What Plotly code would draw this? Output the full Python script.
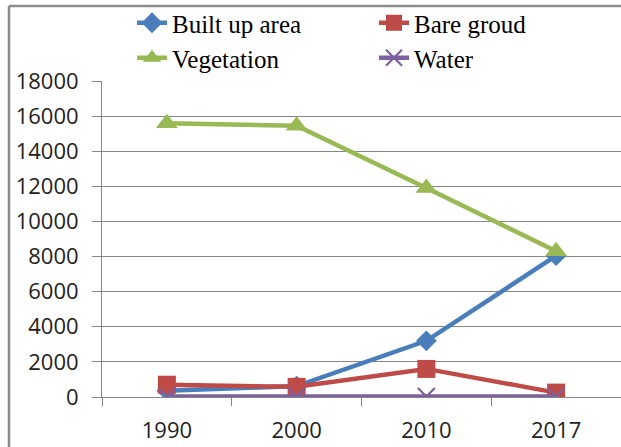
import plotly.graph_objects as go

years = ["1990", "2000", "2010", "2017"]
built_up = [350, 620, 3200, 8050]
bare_ground = [700, 580, 1600, 250]
vegetation = [15600, 15450, 11900, 8300]
water = [30, 30, 30, 30]
y_ticks = [0, 2000, 4000, 6000, 8000, 10000, 12000, 14000, 16000, 18000]

W, H = 621, 447
L, R, T, B = 102, 0, 81, 50
PW, PH = W - L - R, H - T - B

def px_x(p):
    return (p - L) / PW

def px_y(p):
    return (H - B - p) / PH

fig = go.Figure()
fig.add_trace(go.Scatter(x=years, y=built_up, name="Built up area", mode="lines+markers",
                         line=dict(color="#4A7EBB", width=4.5),
                         marker=dict(symbol="diamond", size=16, color="#4A7EBB"),
                         legend="legend"))
fig.add_trace(go.Scatter(x=years, y=bare_ground, name="Bare groud", mode="lines+markers",
                         line=dict(color="#BE4B48", width=4.5),
                         marker=dict(symbol="square", size=18, color="#BE4B48"),
                         legend="legend2"))
fig.add_trace(go.Scatter(x=years, y=vegetation, name="Vegetation", mode="lines+markers",
                         line=dict(color="#98B954", width=4.5),
                         marker=dict(symbol="triangle-up", size=19, color="#98B954"),
                         legend="legend3"))
fig.add_trace(go.Scatter(x=years, y=water, name="Water", mode="lines+markers",
                         line=dict(color="#7D60A0", width=4.5),
                         marker=dict(symbol="x-thin", size=17, color="#7D60A0",
                                     line=dict(color="#7D60A0", width=2.2)),
                         legend="legend4"))

legend_common = dict(orientation="h", xanchor="left", yanchor="middle",
                     font=dict(family="Liberation Serif", size=25, color="#000000"),
                     bgcolor="rgba(0,0,0,0)")

border = dict(color="#8C8C8C", width=2.5)

fig.update_layout(
    width=W, height=H,
    margin=dict(l=L, r=R, t=T, b=B, pad=0, autoexpand=False),
    paper_bgcolor="white", plot_bgcolor="white",
    showlegend=True,
    legend=dict(x=px_x(132), y=px_y(23), **legend_common),
    legend2=dict(x=px_x(374), y=px_y(23), **legend_common),
    legend3=dict(x=px_x(132), y=px_y(58), **legend_common),
    legend4=dict(x=px_x(374), y=px_y(58), **legend_common),
    xaxis=dict(type="category", range=[-0.5, 3.5], showgrid=False,
               ticks="outside", ticklen=8, tickcolor="#868686", tickson="boundaries",
               showline=True, linecolor="#868686", linewidth=1,
               tickfont=dict(family="Open Sans", size=22, color="#222222"),
               ticklabelstandoff=14, zeroline=False),
    yaxis=dict(range=[0, 18000], tickvals=y_ticks, tickformat="d",
               showgrid=True, gridcolor="#868686",
               gridwidth=1, ticks="outside", ticklen=9, tickcolor="#868686",
               showline=True, linecolor="#868686", linewidth=1,
               tickfont=dict(family="Open Sans", size=22, color="#222222"),
               ticklabelstandoff=9, zeroline=False),
    shapes=[
        dict(type="line", xref="paper", yref="paper",
             x0=px_x(9), x1=px_x(9), y0=px_y(447), y1=px_y(6), line=border, layer="below"),
        dict(type="line", xref="paper", yref="paper",
             x0=px_x(9), x1=px_x(621), y0=px_y(6), y1=px_y(6), line=border, layer="below"),
    ],
)

css_js = (
    "var s=document.createElement('style');"
    "s.textContent='html,body{margin:0!important;padding:0!important;overflow:hidden!important;}"
    "::-webkit-scrollbar{width:0!important;height:0!important;display:none!important;}';"
    "document.head.appendChild(s);"
    "document.documentElement.style.overflow='hidden';"
    "document.body.style.margin='0';"
    "document.body.style.overflow='hidden';"
)

fig.write_html("out.html", config={"displayModeBar": False}, post_script=css_js)
